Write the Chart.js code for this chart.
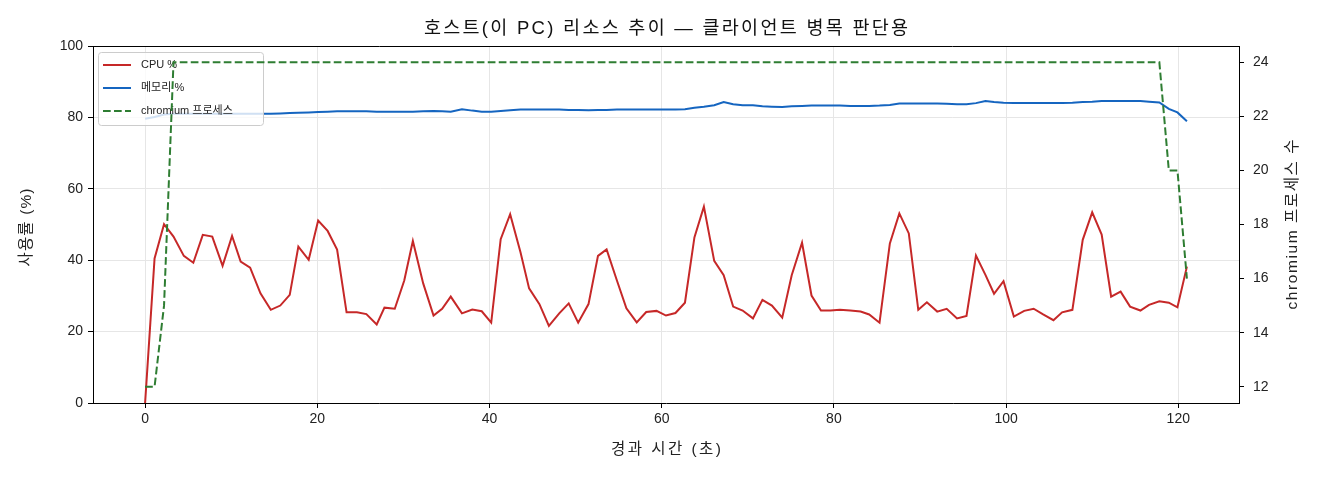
<!DOCTYPE html>
<html lang="ko">
<head>
<meta charset="UTF-8">
<title>호스트 리소스 추이</title>
<script src="https://cdn.jsdelivr.net/npm/chart.js"></script>
<style>
  body { margin: 0; background: #fff; }
  canvas { display: block; }
</style>
</head>
<body>
<canvas id="myChart" width="1320" height="480"></canvas>
<script>
// elapsed seconds of each sample
const times = [
  0, 1.1, 2.2, 3.3, 4.5, 5.6, 6.7, 7.8, 9.0, 10.1,
  11.1, 12.2, 13.4, 14.6, 15.7, 16.8, 17.8, 19.0, 20.1, 21.2,
  22.3, 23.4, 24.6, 25.7, 26.9, 27.8, 29.0, 30.1, 31.1, 32.3,
  33.5, 34.5, 35.5, 36.8, 38.0, 39.1, 40.2, 41.3, 42.4, 43.6,
  44.6, 45.8, 46.9, 48.1, 49.2, 50.3, 51.5, 52.6, 53.6, 54.8,
  55.9, 57.1, 58.2, 59.4, 60.5, 61.6, 62.7, 63.8, 64.9, 66.1,
  67.2, 68.3, 69.4, 70.6, 71.7, 72.8, 74.0, 75.1, 76.3, 77.4,
  78.5, 79.6, 80.7, 81.9, 83.1, 84.1, 85.3, 86.5, 87.6, 88.7,
  89.8, 90.8, 92.0, 93.1, 94.3, 95.4, 96.5, 97.6, 98.6, 99.7,
  100.9, 102.1, 103.2, 104.3, 105.5, 106.5, 107.7, 108.9, 110.0, 111.1,
  112.2, 113.3, 114.4, 115.6, 116.6, 117.8, 118.9, 119.9, 121.0
];

const cpuPct = [
  0, 40.5, 50.1, 46.6, 41.2, 39.3, 47.1, 46.6, 38.4, 46.8,
  39.6, 37.9, 30.7, 26.1, 27.3, 30.3, 43.8, 40.1, 51.1, 48.2,
  43.0, 25.4, 25.4, 24.9, 22.0, 26.7, 26.4, 34.3, 45.4, 33.5,
  24.5, 26.4, 29.8, 25.1, 26.2, 25.7, 22.5, 45.9, 52.9, 42.2,
  32.1, 27.7, 21.6, 25.1, 27.9, 22.5, 27.7, 41.2, 43.0, 34.3,
  26.5, 22.6, 25.5, 25.8, 24.5, 25.2, 28.1, 46.4, 55.0, 39.8,
  35.8, 27.0, 25.9, 23.7, 28.9, 27.3, 23.9, 35.8, 44.9, 30.1,
  25.9, 25.9, 26.1, 25.9, 25.6, 24.8, 22.5, 44.7, 53.1, 47.5,
  26.1, 28.2, 25.6, 26.4, 23.7, 24.4, 41.3, 35.9, 30.6, 34.1,
  24.2, 25.8, 26.4, 24.8, 23.2, 25.4, 26.1, 45.7, 53.4, 47.2,
  29.8, 31.2, 27.0, 25.9, 27.5, 28.5, 28.1, 26.8, 38.2
];

const memPct = [
  79.6, 80.1, 80.8, 81.0, 81.0, 81.0, 81.0, 81.0, 81.0, 81.0,
  81.0, 81.0, 81.0, 81.0, 81.1, 81.2, 81.3, 81.4, 81.5, 81.6,
  81.7, 81.7, 81.7, 81.7, 81.6, 81.6, 81.6, 81.6, 81.6, 81.7,
  81.8, 81.7, 81.6, 82.3, 81.9, 81.6, 81.6, 81.8, 82.0, 82.2,
  82.2, 82.2, 82.2, 82.2, 82.1, 82.1, 82.0, 82.1, 82.1, 82.2,
  82.2, 82.2, 82.2, 82.2, 82.2, 82.2, 82.3, 82.7, 83.0, 83.4,
  84.3, 83.7, 83.4, 83.4, 83.1, 83.0, 82.9, 83.1, 83.2, 83.3,
  83.3, 83.3, 83.3, 83.2, 83.2, 83.2, 83.3, 83.5, 83.9, 83.9,
  83.9, 83.9, 83.9, 83.8, 83.7, 83.7, 84.0, 84.6, 84.3, 84.1,
  84.0, 84.0, 84.0, 84.0, 84.0, 84.0, 84.1, 84.3, 84.4, 84.6,
  84.6, 84.6, 84.6, 84.6, 84.4, 84.2, 82.4, 81.4, 78.9
];

const chromiumProcs = [
  12, 12, 15, 24, 24, 24, 24, 24, 24, 24,
  24, 24, 24, 24, 24, 24, 24, 24, 24, 24,
  24, 24, 24, 24, 24, 24, 24, 24, 24, 24,
  24, 24, 24, 24, 24, 24, 24, 24, 24, 24,
  24, 24, 24, 24, 24, 24, 24, 24, 24, 24,
  24, 24, 24, 24, 24, 24, 24, 24, 24, 24,
  24, 24, 24, 24, 24, 24, 24, 24, 24, 24,
  24, 24, 24, 24, 24, 24, 24, 24, 24, 24,
  24, 24, 24, 24, 24, 24, 24, 24, 24, 24,
  24, 24, 24, 24, 24, 24, 24, 24, 24, 24,
  24, 24, 24, 24, 24, 24, 20, 20, 16
];

const xTicks = [0, 20, 40, 60, 80, 100, 120];
const pctTicks = [0, 20, 40, 60, 80, 100];
const procTicks = [12, 14, 16, 18, 20, 22, 24];

const seriesNames = ['CPU %', '메모리 %', 'chromium 프로세스'];
const titleText = '호스트(이 PC) 리소스 추이 — 클라이언트 병목 판단용';
const xTitle = '경과 시간 (초)';
const leftTitle = '사용률 (%)';
const rightTitle = 'chromium 프로세스 수';

const FONT = '"Liberation Sans", "Noto Sans CJK KR", sans-serif';
const RED = '#c62828', BLUE = '#1565c0', GREEN = '#2e7d32';
const GRID = '#e6e6e6';

function toPoints(ys) {
  return times.map((t, i) => ({ x: t, y: ys[i] }));
}

// draws text char by char, spread to a given overall width, centred on (0,0)
function spacedText(ctx, text, width) {
  const chars = Array.from(text);
  const natural = chars.reduce((s, c) => s + ctx.measureText(c).width, 0);
  const gap = Math.max(0, (width - natural) / (chars.length - 1));
  let x = -(natural + gap * (chars.length - 1)) / 2;
  ctx.textAlign = 'left';
  chars.forEach(c => {
    ctx.fillText(c, x, 0);
    x += ctx.measureText(c).width + gap;
  });
}

// legend sits between the left-axis lines and the right-axis line, like matplotlib twinx
const legendBox = {
  id: 'legendBox',
  beforeDatasetDraw(chart, args) {
    if (args.index !== 2) return;
    const ctx = chart.ctx;
    const ca = chart.chartArea;
    const x0 = ca.left + 5, y0 = ca.top + 6, w = 165, h = 73;
    ctx.save();
    ctx.beginPath();
    ctx.roundRect(x0 + 0.5, y0 + 0.5, w, h, 3);
    ctx.fillStyle = 'rgba(255,255,255,0.8)';
    ctx.fill();
    ctx.strokeStyle = '#cccccc';
    ctx.lineWidth = 1;
    ctx.stroke();

    const colors = [RED, BLUE, GREEN];
    ctx.font = '11px ' + FONT;
    ctx.textBaseline = 'middle';
    ctx.textAlign = 'left';
    seriesNames.forEach((name, i) => {
      const y = y0 + 13 + i * 23;
      ctx.beginPath();
      ctx.strokeStyle = colors[i];
      ctx.lineWidth = 2;
      ctx.setLineDash(i === 2 ? [7.7, 3.3] : []);
      ctx.moveTo(x0 + 5, y);
      ctx.lineTo(x0 + 33, y);
      ctx.stroke();
      ctx.setLineDash([]);
      ctx.fillStyle = '#222';
      ctx.fillText(name, x0 + 43, y);
    });
    ctx.restore();
  },
  afterDraw(chart) {
    const ctx = chart.ctx;
    const ca = chart.chartArea;
    const midY = (ca.top + ca.bottom) / 2;
    ctx.save();
    // top spine
    ctx.strokeStyle = '#000';
    ctx.lineWidth = 1;
    ctx.beginPath();
    ctx.moveTo(ca.left, ca.top + 0.5);
    ctx.lineTo(ca.right, ca.top + 0.5);
    ctx.stroke();
    ctx.textBaseline = 'middle';

    // title
    ctx.save();
    ctx.fillStyle = '#111';
    ctx.font = '18.5px ' + FONT;
    ctx.translate((ca.left + ca.right) / 2, 29);
    spacedText(ctx, titleText, 484);
    ctx.restore();

    ctx.fillStyle = '#222';
    ctx.font = '15.5px ' + FONT;
    // x axis label
    ctx.save();
    ctx.translate((ca.left + ca.right) / 2, 450);
    spacedText(ctx, xTitle, 110);
    ctx.restore();
    // left axis label
    ctx.save();
    ctx.translate(27, midY + 3);
    ctx.rotate(-Math.PI / 2);
    spacedText(ctx, leftTitle, 78);
    ctx.restore();
    // right axis label, reading bottom to top
    ctx.save();
    ctx.translate(1293, midY);
    ctx.rotate(-Math.PI / 2);
    spacedText(ctx, rightTitle, 170);
    ctx.restore();
    ctx.restore();
  }
};

const ctx = document.getElementById('myChart').getContext('2d');
new Chart(ctx, {
  type: 'line',
  data: {
    datasets: [
      {
        label: seriesNames[0],
        data: toPoints(cpuPct),
        borderColor: RED,
        borderWidth: 2,
        pointRadius: 0,
        tension: 0,
        yAxisID: 'y',
        order: 3
      },
      {
        label: seriesNames[1],
        data: toPoints(memPct),
        borderColor: BLUE,
        borderWidth: 2,
        pointRadius: 0,
        tension: 0,
        yAxisID: 'y',
        order: 2
      },
      {
        label: seriesNames[2],
        data: toPoints(chromiumProcs),
        borderColor: GREEN,
        borderWidth: 2,
        borderDash: [7.7, 3.3],
        pointRadius: 0,
        tension: 0,
        yAxisID: 'y2',
        order: 1
      }
    ]
  },
  options: {
    responsive: false,
    animation: false,
    devicePixelRatio: 1,
    layout: { padding: { top: 46, left: 0, right: 0, bottom: 0 } },
    plugins: {
      legend: { display: false },
      title: { display: false },
      tooltip: { enabled: false }
    },
    scales: {
      x: {
        type: 'linear',
        min: -6.05,
        max: 127.05,
        afterBuildTicks: s => { s.ticks = xTicks.map(v => ({ value: v })); },
        afterFit: s => { s.height = 77; },
        grid: { color: GRID, lineWidth: 1, tickColor: '#000', tickLength: 5 },
        border: { color: '#000', width: 1 },
        ticks: { color: '#222', font: { family: FONT, size: 14 }, padding: 3, maxRotation: 0 }
      },
      y: {
        position: 'left',
        min: 0,
        max: 100,
        afterBuildTicks: s => { s.ticks = pctTicks.map(v => ({ value: v })); },
        afterFit: s => { s.width = 93; },
        grid: { color: GRID, lineWidth: 1, tickColor: '#000', tickLength: 5 },
        border: { color: '#000', width: 1 },
        ticks: { color: '#222', font: { family: FONT, size: 14 }, padding: 5 }
      },
      y2: {
        position: 'right',
        min: 11.4,
        max: 24.6,
        afterBuildTicks: s => { s.ticks = procTicks.map(v => ({ value: v })); },
        afterFit: s => { s.width = 81; },
        grid: { drawOnChartArea: false, tickColor: '#000', tickLength: 5 },
        border: { color: '#000', width: 1 },
        ticks: { color: '#222', font: { family: FONT, size: 14 }, padding: 9 }
      }
    }
  },
  plugins: [legendBox]
});
</script>
</body>
</html>
